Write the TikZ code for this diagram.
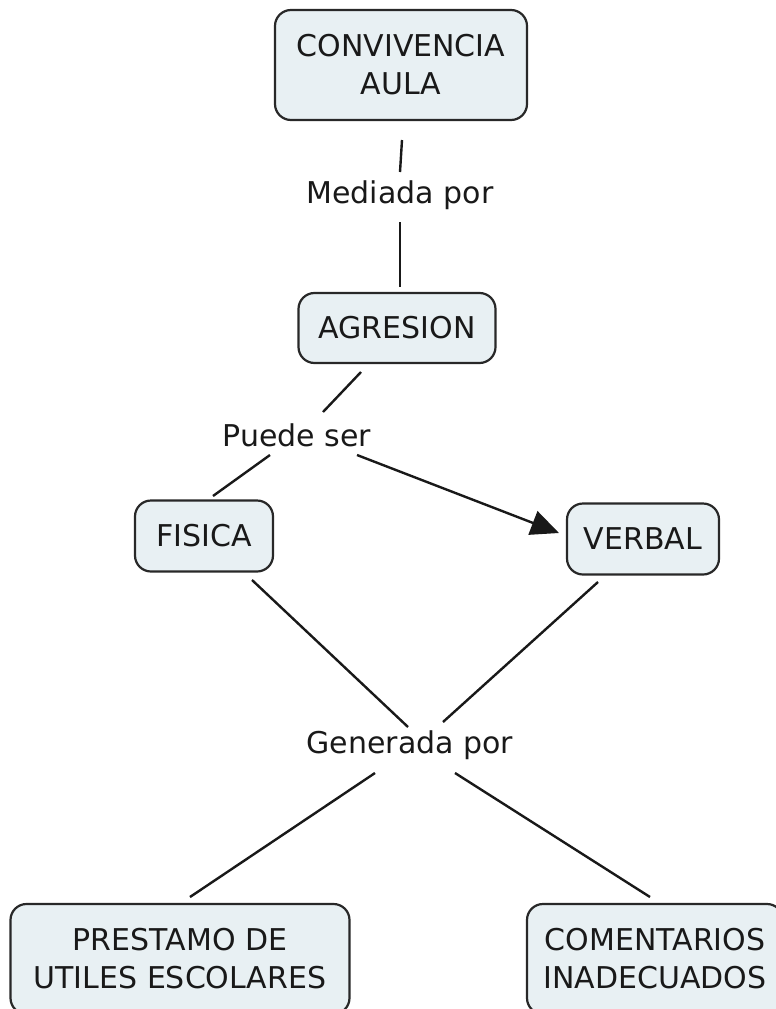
\documentclass[tikz,border=0pt]{standalone}
\usepackage{fontspec}
\setmainfont{DejaVu Sans}
\usetikzlibrary{arrows.meta}
\definecolor{boxfill}{RGB}{232,240,243}
\definecolor{boxline}{RGB}{40,40,40}
\definecolor{txt}{RGB}{25,25,25}
\begin{document}
\begin{tikzpicture}[x=1pt,y=-1pt,
  concept/.style={draw=boxline,line width=2.2pt,fill=boxfill,rounded corners=16pt,
     align=center,text=txt,font=\fontsize{30}{38}\selectfont,inner sep=0pt},
  linklabel/.style={text=txt,font=\fontsize{30}{38}\selectfont,inner sep=0pt},
  conn/.style={line width=2.4pt,draw=txt}]
\useasboundingbox (0,0) rectangle (776,1009);
\clip (0,0) rectangle (776,1009);
\node[concept,minimum width=252pt,minimum height=110pt] (conv) at (401,65) {CONVIVENCIA\\AULA};
\node[linklabel] (med) at (400,195) {Mediada por};
\node[concept,minimum width=197pt,minimum height=70pt] (agr) at (397,328) {AGRESION};
\node[linklabel] (ps) at (297,435) {Puede ser};
\node[concept,minimum width=138pt,minimum height=71pt] (fis) at (204,536) {FISICA};
\node[concept,minimum width=152pt,minimum height=71pt] (ver) at (643,539) {VERBAL};
\node[linklabel] (gen) at (410,745) {Generada por};
\node[concept,minimum width=339pt,minimum height=110pt] (pre) at (180,959) {PRESTAMO DE\\UTILES ESCOLARES};
\node[concept,minimum width=256pt,minimum height=110pt] (com) at (655,959) {COMENTARIOS\\INADECUADOS};

\draw[conn] ([shift={(1,75)}]conv.center) -- ([shift={(0,-23)}]med.center);
\draw[conn] ([shift={(0,27)}]med.center) -- ([shift={(3,-41)}]agr.center);
\draw[conn] ([shift={(-36,44)}]agr.center) -- ([shift={(26,-23)}]ps.center);
\draw[conn] ([shift={(-27,20)}]ps.center) -- ([shift={(9,-40)}]fis.center);
\draw[conn,-{Triangle[length=28pt,width=25pt]}] ([shift={(60,20)}]ps.center) -- ([shift={(-84,-6)}]ver.center);
\draw[conn] ([shift={(48,44)}]fis.center) -- ([shift={(-2,-18)}]gen.center);
\draw[conn] ([shift={(-45,43)}]ver.center) -- ([shift={(33,-23)}]gen.center);
\draw[conn] ([shift={(-35,28)}]gen.center) -- ([shift={(10,-62)}]pre.center);
\draw[conn] ([shift={(45,28)}]gen.center) -- ([shift={(-5,-62)}]com.center);
\end{tikzpicture}
\end{document}
